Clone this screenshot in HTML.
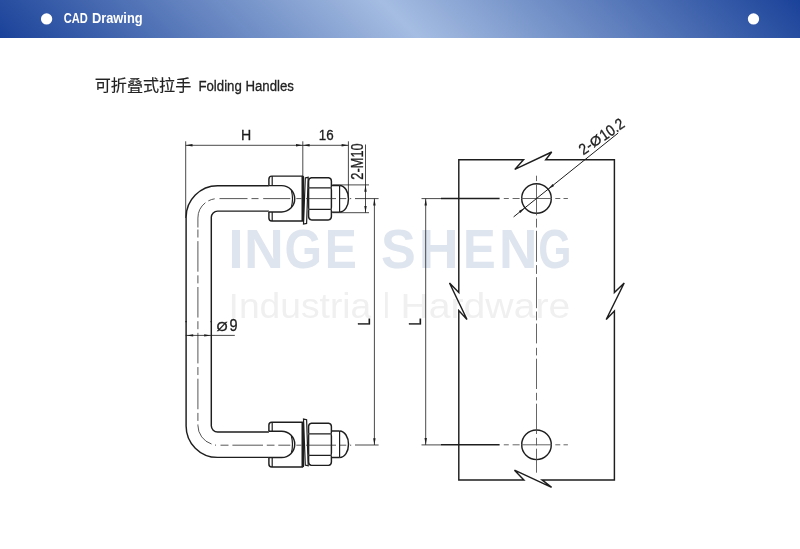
<!DOCTYPE html>
<html lang="zh">
<head>
<meta charset="utf-8">
<title>CAD Drawing - Folding Handles</title>
<style>
  html, body { margin: 0; padding: 0; background: #ffffff; }
  body { width: 800px; height: 549px; position: relative; overflow: hidden;
         font-family: "Liberation Sans", "Noto Sans CJK SC", sans-serif; }
  .hdr { position: absolute; left: 0; top: 0; width: 800px; height: 37.5px;
         background: linear-gradient(45deg, #1a4299 0%, #a5bde2 50%, #1a4299 100%); }
  svg { position: absolute; left: 0; top: 0; will-change: transform; }
  svg text { font-family: "Liberation Sans", sans-serif; }
  .o { stroke: #1e1e1e; stroke-width: 1.45; fill: none; stroke-linejoin: miter; stroke-linecap: butt; }
  .o2 { stroke: #1e1e1e; stroke-width: 1.2; fill: none; }
  .t { stroke: #1c1c1c; stroke-width: 0.8; fill: none; }
  .c { stroke: #2c2c2c; stroke-width: 0.8; fill: none; }
  .a { fill: #1c1c1c; stroke: none; }
</style>
</head>
<body>
<div class="hdr"></div>
<svg width="800" height="549" viewBox="0 0 800 549">
  <!-- header -->
  <circle cx="46.6" cy="18.9" r="5.65" fill="#ffffff"/>
  <circle cx="753.5" cy="18.9" r="5.65" fill="#ffffff"/>
  <text fill="#ffffff" y="22.70" font-weight="bold"><tspan x="63.85" font-size="13.81" textLength="24.02" lengthAdjust="spacingAndGlyphs">CAD</tspan> <tspan x="91.94" font-size="13.81" textLength="50.72" lengthAdjust="spacingAndGlyphs">Drawing</tspan></text>

  <!-- title -->
  <text x="94.7" y="91.35" style="font-family:'Liberation Sans','Noto Sans CJK SC','WenQuanYi Zen Hei',sans-serif" font-size="15.8" fill="#222" stroke="#222" stroke-width="0.15" textLength="96.6" lengthAdjust="spacingAndGlyphs">可折叠式拉手</text>
  <text transform="translate(198.41,90.80) scale(0.8512,1)" font-size="15.55" fill="#222" stroke="#222" stroke-width="0.3">Folding Handles</text>

  <!-- watermark -->
  <text fill="#dfe5ee" y="267.60" font-weight="bold"><tspan x="228.28" font-size="55.38" textLength="15.43" lengthAdjust="spacingAndGlyphs">I</tspan><tspan x="243.91" font-size="55.38" textLength="39.80" lengthAdjust="spacingAndGlyphs">N</tspan><tspan x="284.42" font-size="55.38" textLength="37.58" lengthAdjust="spacingAndGlyphs">G</tspan><tspan x="324.78" font-size="55.38" textLength="32.10" lengthAdjust="spacingAndGlyphs">E</tspan> <tspan x="381.00" font-size="55.38" textLength="34.79" lengthAdjust="spacingAndGlyphs">S</tspan><tspan x="418.80" font-size="55.38" textLength="39.92" lengthAdjust="spacingAndGlyphs">H</tspan><tspan x="462.97" font-size="55.38" textLength="32.69" lengthAdjust="spacingAndGlyphs">E</tspan><tspan x="498.94" font-size="55.38" textLength="38.39" lengthAdjust="spacingAndGlyphs">N</tspan><tspan x="538.25" font-size="55.38" textLength="33.14" lengthAdjust="spacingAndGlyphs">G</tspan></text>
  <text fill="#f0f0f0" y="318.10"><tspan x="228.57" font-size="35.32" textLength="142.68" lengthAdjust="spacingAndGlyphs">Industria</tspan><tspan x="382.93" font-size="35.32" textLength="6.82" lengthAdjust="spacingAndGlyphs">l</tspan> <tspan x="400.54" font-size="35.32" textLength="169.70" lengthAdjust="spacingAndGlyphs">Hardware</tspan></text>

  <!-- ===== LEFT VIEW : handle ===== -->
  <defs>
    <g id="half">
      <!-- tube -->
      <path class="o" d="M186.1,322.2 V217.3 A31.5,31.5 0 0 1 217.6,185.7 H268.9"/>
      <path class="o" d="M211.3,322.2 V217.3 A6.3,6.3 0 0 1 217.6,211.1 H268.9"/>
      <!-- clevis block -->
      <path class="o" d="M268.9,185.6 V179.2 Q268.9,176.1 271.8,176.1 H302.4 V220.9 H271.8 Q268.9,220.9 268.9,218 V211.9"/>
      <path class="o2" d="M272.2,176.1 V185.6 M272.2,211.9 V220.9"/>
      <path class="o" d="M268.9,185.6 H281.6 A13.15,13.15 0 0 1 281.6,211.9 H268.9"/>
      <path class="o2" d="M291.4,190.4 Q293.6,198.7 291.4,207.1"/>
      <path class="o" d="M302.9,176.1 V220.9" style="stroke-width:2.3"/>
      <!-- spring washer -->
      <path class="o2" d="M305.3,177.9 L308.2,177.3 L306.6,223.4 L303.5,224 Z"/>
      <!-- nut -->
      <path class="o" d="M311.4,177.7 H328.6 Q331.4,178 331.4,181 V185.8 Q331.4,187.8 330.6,187.8 Q331.4,187.8 331.4,190 V207.2 Q331.4,209.3 330.6,209.3 Q331.4,209.3 331.4,211.4 V216.6 Q331.4,219.6 328.6,219.9 H311.4 Q308.6,219.6 308.6,216.6 V211.4 Q308.6,209.3 309.4,209.3 Q308.6,209.3 308.6,207.2 V190 Q308.6,187.8 309.4,187.8 Q308.6,187.8 308.6,185.8 V181 Q308.6,178 311.4,177.7 Z"/>
      <path class="o2" d="M309.2,187.8 H330.8 M309.2,209.3 H330.8"/>
      <!-- cap -->
      <path class="o" d="M331.6,185.5 H339.6 M331.6,212.1 H339.6"/>
      <path class="o2" d="M339.6,185.5 V212.1"/>
      <path class="o" d="M339.6,185.5 C344.8,185.8 348.5,191.4 348.5,198.8 C348.5,206.2 344.8,211.8 339.6,212.1"/>
    </g>
  </defs>
  <use href="#half"/>
  <use href="#half" transform="translate(0,643.1) scale(1,-1)"/>

  <!-- handle centre lines -->
  <g class="c">
    <path d="M197.9,229.5 V421" stroke-dasharray="8 3.65 30.55 3.65"/>
    <path d="M197.9,227.5 V218.1 A19.5,19.5 0 0 1 205.4,202.7 M208.3,200.9 A19.5,19.5 0 0 1 214.7,198.8"/>
    <path d="M219.5,198.6 H247.5 M251.5,198.6 H258.5 M263.2,198.6 H290.3 M296.3,198.6 H301.5 M306,198.6 H336 M339.4,198.6 H346.3 M350,198.6 H351.2"/>
    <path d="M197.9,424.5 V425.3 A19.7,19.7 0 0 0 211.5,444 M215,445.1 H216 M220.5,445.2 H228.5 M232.4,445.2 H263 M266.8,445.2 H274.5 M278.3,445.2 H290.3 M296.3,445.2 H301.5 M306,445.2 H336 M339.4,445.2 H346.3 M350,445.2 H351.2"/>
  </g>

  <!-- H / 16 dimension -->
  <path class="t" d="M185.7,141.3 V218 M302.8,141.3 V176 M348.4,141.3 V198 M185.7,145.3 H348.4"/>
  <path class="a" d="M185.7,145.3 l6.8,-1.2 v2.4 z M302.8,145.3 l-6.8,-1.2 v2.4 z M302.8,145.3 l6.8,-1.2 v2.4 z M348.4,145.3 l-6.8,-1.2 v2.4 z"/>
  <text transform="translate(240.94,139.80) scale(0.9094,1)" font-size="15.55" fill="#1c1c1c" stroke="#1c1c1c" stroke-width="0.3">H</text>
  <text transform="translate(318.78,139.90) scale(0.8619,1)" font-size="15.55" fill="#1c1c1c" stroke="#1c1c1c" stroke-width="0.3">16</text>

  <!-- 2-M10 dimension -->
  <path class="t" d="M332.5,184.9 H369 M332.5,212.7 H369 M365.5,144.5 V212.7"/>
  <path class="a" d="M365.5,184.9 l-1.2,6.8 h2.4 z M365.5,212.7 l-1.2,-6.8 h2.4 z"/>
  <text transform="translate(363.40,179.00) rotate(-90) scale(0.7948,1) translate(-0.81,0)" font-size="16.13" fill="#1c1c1c" stroke="#1c1c1c" stroke-width="0.3">2-M10</text>

  <!-- L dimension (left view) -->
  <path class="t" d="M355,198.6 H378.6 M355,445 H378.6 M374.4,198.6 V445"/>
  <path class="a" d="M374.4,198.6 l-1.2,6.8 h2.4 z M374.4,445 l-1.2,-6.8 h2.4 z"/>
  <text transform="translate(370.10,324.40) rotate(-90) scale(0.8081,1) translate(-1.34,0)" font-size="16.28" fill="#1c1c1c" stroke="#1c1c1c" stroke-width="0.3">L</text>

  <!-- diameter 9 dimension -->
  <path class="t" d="M185.7,335.4 H234.8"/>
  <path class="a" d="M186.4,335.4 l6.8,-1.2 v2.4 z M211,335.4 l-6.8,-1.2 v2.4 z"/>
  <text fill="#1c1c1c" stroke="#1c1c1c" stroke-width="0.3"><tspan x="216.40" y="330.80" font-size="12.90" textLength="11.18" lengthAdjust="spacingAndGlyphs">Ø</tspan><tspan x="229.42" y="331.40" font-size="15.99" textLength="8.07" lengthAdjust="spacingAndGlyphs">9</tspan></text>

  <!-- ===== RIGHT VIEW : mounting plate ===== -->
  <path class="o" d="M458.8,292.5 V159.8 H523.5 L514.8,169.4 L551.7,152 L545.7,159.8 H614.4 V292.5 L624.2,283 L606.2,319.5 L614.4,311 V479.9 H542.1 L551.6,487.4 L514.5,470.2 L523.9,479.9 H458.8 V310.5 L467,319.5 L449.5,283 Z"/>
  <circle class="o" cx="536.5" cy="198.5" r="14.8"/>
  <circle class="o" cx="536.5" cy="444.8" r="14.8"/>
  <!-- centre lines -->
  <path class="c" d="M536.5,175.7 V343.4" stroke-dasharray="31 3.3 8.8 3.3" stroke-dashoffset="37.7" style="stroke:#4a4a4a;stroke-width:0.85"/>
  <path class="c" d="M536.5,347.8 V472.7" stroke-dasharray="7.6 3.3 30.3 3.8" style="stroke:#4a4a4a;stroke-width:0.85"/>
  <path class="c" style="stroke:#555;stroke-width:0.9" d="M503.8,198.5 h5 M512.6,198.5 h7 M521,198.5 h31 M555.3,198.5 h5 M563.5,198.5 h4.4"/>
  <path class="c" style="stroke:#555;stroke-width:0.9" d="M503.8,444.8 h5 M512.6,444.8 h7 M521,444.8 h31 M555.3,444.8 h5 M563.5,444.8 h4.4"/>
  <!-- L dimension (right view) -->
  <path class="t" d="M421.5,198.6 H441 M421.5,444.9 H441 M425.7,198.6 V444.9"/>
  <path class="o" d="M441,198.5 H499.6 M441,444.8 H499.6"/>
  <path class="a" d="M425.7,198.6 l-1.2,6.8 h2.4 z M425.7,444.9 l-1.2,-6.8 h2.4 z"/>
  <text transform="translate(420.60,324.40) rotate(-90) scale(0.8081,1) translate(-1.34,0)" font-size="16.28" fill="#1c1c1c" stroke="#1c1c1c" stroke-width="0.3">L</text>

  <!-- hole leader -->
  <path class="t" d="M513.6,216.9 L618.2,133" style="stroke-width:1"/>
  <path class="a" transform="translate(548.04,189.24) rotate(-38.75)" d="M0,0 l6.8,-1.2 v2.4 z"/>
  <path class="a" transform="translate(524.96,207.76) rotate(-38.75)" d="M0,0 l-6.8,-1.2 v2.4 z"/>

  <text fill="#1c1c1c" transform="translate(583.8,155) rotate(-34.3)" stroke="#1c1c1c" stroke-width="0.3"><tspan x="-0.71" y="0.00" font-size="15.55" textLength="12.54" lengthAdjust="spacingAndGlyphs">2-</tspan><tspan x="12.09" y="-0.60" font-size="13.20" textLength="11.40" lengthAdjust="spacingAndGlyphs">Ø</tspan><tspan x="24.36" y="0.00" font-size="15.55" textLength="26.52" lengthAdjust="spacingAndGlyphs">10.2</tspan></text>
</svg>
</body>
</html>
